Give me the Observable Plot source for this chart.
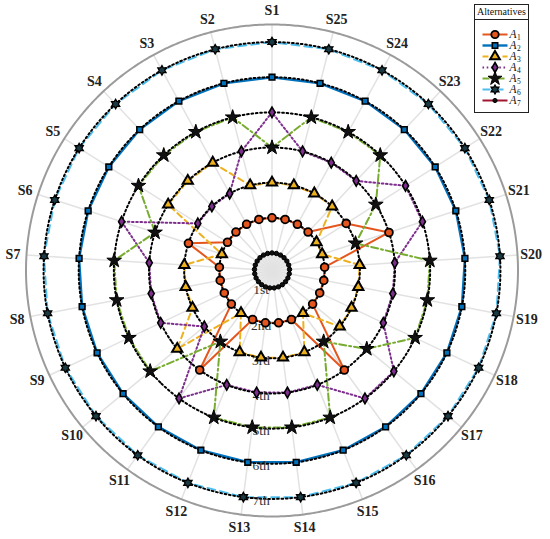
<!DOCTYPE html>
<html><head><meta charset="utf-8">
<script src="https://cdn.jsdelivr.net/npm/d3@7"></script>
<script src="https://cdn.jsdelivr.net/npm/@observablehq/plot@0.6"></script>
<style>
body{margin:0;background:#fff;}
#wrap{position:relative;width:550px;height:539px;overflow:hidden;}
#legend{position:absolute;left:474px;top:4px;width:55px;height:109px;box-sizing:border-box;border:1.5px solid #222;background:#fff;}
#legend .hd{font:10px "Liberation Serif",serif;text-align:center;height:14px;line-height:14px;border-bottom:1px solid #222;color:#111;}
#lg svg{display:block;}
</style></head><body>
<div id="wrap"><div id="chart"></div><div id="legend"><div class="hd">Alternatives</div><div id="lg"></div></div></div>
<script>
// ---- data ----
const scenarios = ["S1","S2","S3","S4","S5","S6","S7","S8","S9","S10","S11","S12","S13","S14","S15","S16","S17","S18","S19","S20","S21","S22","S23","S24","S25"];
const alternatives = ["A1","A2","A3","A4","A5","A6","A7"];
const legendSubscripts = ["1","2","3","4","5","6","7"];
const rankLabels = ["1st","2nd","3rd","4th","5th","6th","7th"];
const rankLevels = [1,2,3,4,5,6,7];
const rankA1 = [2,2,2,2,2,3,2,2,2,2,4,2,2,2,2,4,2,2,2,2,4,3,2,2,2];
const rankA2 = [6,6,6,6,6,6,6,6,6,6,6,6,6,6,6,6,6,6,6,6,6,6,6,6,6];
const rankA3 = [3,3,4,4,4,2,3,3,3,4,2,3,3,3,3,2,3,3,3,3,2,2,3,3,3];
const rankA4 = [5,4,3,3,3,5,4,4,4,3,5,4,4,4,4,5,5,4,4,4,5,5,4,4,4];
const rankA5 = [4,5,5,5,5,4,5,5,5,5,3,5,5,5,5,3,4,5,5,5,3,4,5,5,5];
const rankA6 = [7,7,7,7,7,7,7,7,7,7,7,7,7,7,7,7,7,7,7,7,7,7,7,7,7];
const rankA7 = [1,1,1,1,1,1,1,1,1,1,1,1,1,1,1,1,1,1,1,1,1,1,1,1,1];
const series = [rankA1, rankA2, rankA3, rankA4, rankA5, rankA6, rankA7];

// ---- styles ----
const hexagram = {
  draw(context, size) {
    const R = Math.sqrt(size / Math.PI) * 1.25, r = R / Math.sqrt(3);
    for (let i = 0; i < 12; i++) {
      const a = i * Math.PI / 6 - Math.PI / 2, rad = i % 2 ? r : R;
      const x = rad * Math.cos(a), y = rad * Math.sin(a);
      i ? context.lineTo(x, y) : context.moveTo(x, y);
    }
    context.closePath();
  }
};
const styles = [
  {color:"#E5561F", width:2,   dash:null,      symbol:"circle",   r:3.9, mfill:"#E5561F", sw:1.8},
  {color:"#0072BD", width:2.4, dash:null,      symbol:"square",   r:3.2, mfill:"#0072BD", sw:1.6},
  {color:"#EDB120", width:2,   dash:"6,4",     symbol:"triangle", r:3.8, mfill:"#EDB120", sw:2},
  {color:"#7E2F8E", width:2,   dash:"1.6,2.6", symbol:"diamond",  r:3.2, mfill:"#7E2F8E", sw:1.6},
  {color:"#77AC30", width:2,   dash:"7,3,2,3", symbol:"star",     r:4.6, mfill:"#111",    sw:1},
  {color:"#4DBEEE", width:2,   dash:"8,5",     symbol:hexagram,   r:3.8, mfill:"#1a3a44", sw:1.3},
  {color:"#A2142F", width:2,   dash:null,      symbol:"circle",   r:2.2, mfill:"#111",    sw:1}
];

// ---- scales for polar layout ----
const lonScale = d3.scaleLinear().domain([0, scenarios.length]).range([180, 540]);
const radial = d3.scaleLinear().domain([0.5, 7.5]).range([0, 70]);
const lat = rank => 90 - radial(rank);
const circle = rank => d3.geoCircle().center([0, 90]).radius(radial(rank)).precision(0.5)();
const table = alternatives.flatMap((alt, i) =>
  series[i].map((rank, j) => ({alt, scenario: scenarios[j], lon: lonScale(j), lat: lat(rank)})));

const font = "'Liberation Serif', 'DejaVu Serif', serif";
const marks = [];
marks.push(Plot.geo([1], {geometry: circle, fill: "#e9e9e9", stroke: "none"}));
marks.push(Plot.link(scenarios, {x1: (d, i) => lonScale(i), y1: 90, x2: (d, i) => lonScale(i), y2: lat(7.5),
  stroke: "#e2e2e2", strokeWidth: 1.5}));
marks.push(Plot.geo([7.5], {geometry: circle, fill: "none", stroke: "#9b9b9b", strokeWidth: 2}));
alternatives.forEach((alt, i) => {
  const s = styles[i];
  marks.push(Plot.line(table.filter(d => d.alt === alt), {x: "lon", y: "lat", curve: "linear-closed",
    stroke: s.color, strokeWidth: s.width, strokeDasharray: s.dash}));
});
marks.push(Plot.geo(rankLevels, {geometry: circle, fill: "none", stroke: "#000", strokeWidth: 2, strokeDasharray: "1.7,2.7"}));
marks.push(Plot.text(rankLabels, {x: 0, y: (d, i) => lat(rankLevels[i]), text: d => d, dx: -11, dy: 2,
  fontSize: 13.5, fontFamily: font, fill: "#333"}));
alternatives.forEach((alt, i) => {
  const s = styles[i];
  marks.push(Plot.dot(table.filter(d => d.alt === alt), {x: "lon", y: "lat", symbol: s.symbol, r: s.r,
    fill: s.mfill, stroke: "#000", strokeWidth: s.sw}));
});
marks.push(Plot.text(scenarios, {x: (d, i) => lonScale(i), y: lat(7.885), text: d => d,
  fontSize: 14, fontWeight: "bold", fontFamily: font, fill: "#222"}));

const chart = Plot.plot({
  width: 550, height: 539,
  marginLeft: 25.5, marginRight: 32.5, marginTop: 24, marginBottom: 23,
  projection: {type: "azimuthal-equidistant", rotate: [0, -90], clip: false,
    domain: d3.geoCircle().center([0, 90]).radius(70).precision(0.5)()},
  style: {fontFamily: font, background: "white"},
  marks
});
document.getElementById("chart").appendChild(chart);

// ---- legend ----
const lgMarks = [];
alternatives.forEach((alt, i) => {
  const s = styles[i];
  lgMarks.push(Plot.link([alt], {x1: 7, x2: 32, y1: d => d, y2: d => d, stroke: s.color,
    strokeWidth: s.width, strokeDasharray: s.dash}));
  lgMarks.push(Plot.dot([alt], {x: 19.5, y: d => d, symbol: s.symbol, r: s.r * 0.95,
    fill: s.mfill, stroke: "#000", strokeWidth: s.sw}));
});
lgMarks.push(Plot.text(alternatives, {x: 34, y: d => d, text: () => "A", textAnchor: "start",
  fontStyle: "italic", fontSize: 11.5, fontFamily: font, fill: "#111"}));
lgMarks.push(Plot.text(alternatives, {x: 41.5, y: d => d, dy: 3, text: (d, i) => legendSubscripts[i], textAnchor: "start",
  fontSize: 7.5, fontFamily: font, fill: "#111"}));
const lg = Plot.plot({
  width: 52, height: 91, margin: 0,
  x: {type: "identity", axis: null},
  y: {type: "point", domain: alternatives, range: [6.5, 87.5], axis: null},
  style: {fontFamily: font, background: "white"},
  marks: lgMarks
});
document.getElementById("lg").appendChild(lg);
</script>
</body></html>
